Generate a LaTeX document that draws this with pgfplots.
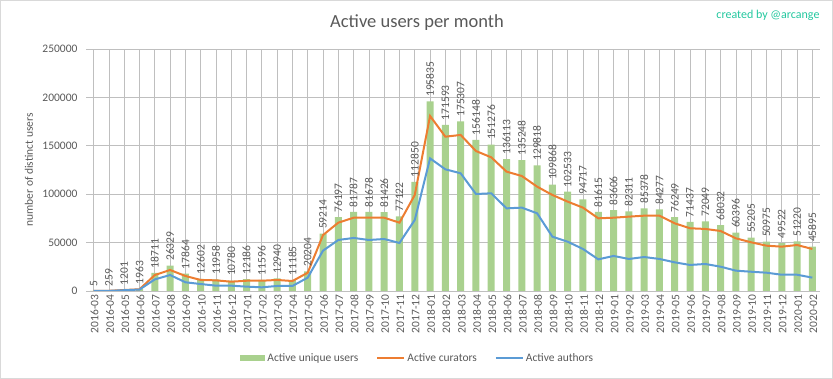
\documentclass[border=0pt]{standalone}
\usepackage{pgfplots}
\usepackage{pgfplotstable}
\pgfplotsset{compat=1.18}
\usepackage{fontspec}
\setmainfont{Carlito}
\definecolor{txt}{HTML}{595959}
\definecolor{grid}{HTML}{D9D9D9}
\definecolor{bar}{HTML}{A9D18E}
\definecolor{cur}{HTML}{ED7D31}
\definecolor{aut}{HTML}{5B9BD5}
\definecolor{teal}{HTML}{22C79E}
\pgfplotstableread{
x m users curators authors
0 2016-03 5 0 0
1 2016-04 259 200 150
2 2016-05 1201 1000 800
3 2016-06 1963 1800 1500
4 2016-07 18711 16500 12000
5 2016-08 26329 21700 16500
6 2016-09 17864 15500 9000
7 2016-10 12602 11400 7200
8 2016-11 11958 11000 5500
9 2016-12 10780 9600 5500
10 2017-01 12186 10600 4500
11 2017-02 11596 10600 3800
12 2017-03 12940 11400 5200
13 2017-04 11185 10300 5200
14 2017-05 20204 18900 13800
15 2017-06 59214 57800 41700
16 2017-07 76197 70600 52700
17 2017-08 81787 75700 54800
18 2017-09 81678 75700 52700
19 2017-10 81426 75700 53700
20 2017-11 77122 70600 49600
21 2017-12 112850 99200 73400
22 2018-01 195835 180800 137000
23 2018-02 171593 159400 125700
24 2018-03 175307 161200 121600
25 2018-04 156148 144600 100200
26 2018-05 151276 138100 100900
27 2018-06 136113 123300 85400
28 2018-07 135248 118800 86100
29 2018-08 129818 107800 80300
30 2018-09 109868 99200 56100
31 2018-10 102533 92300 50900
32 2018-11 94717 86100 43400
33 2018-12 81615 75100 32700
34 2019-01 83606 75700 36200
35 2019-02 82311 76800 33100
36 2019-03 85378 77800 35100
37 2019-04 84277 77800 33100
38 2019-05 76249 69900 29600
39 2019-06 71437 64800 26900
40 2019-07 72049 64100 27900
41 2019-08 68032 62000 25100
42 2019-09 60396 54400 21000
43 2019-10 55205 50300 19900
44 2019-11 50975 46800 18900
45 2019-12 49522 45800 16800
46 2020-01 51220 47500 16800
47 2020-02 45895 43400 13800
}\data
\begin{document}
\begin{tikzpicture}[x=1pt,y=1pt]
\begin{axis}[
  at={(86pt,88pt)}, anchor=south west,
  scale only axis, width=734pt, height=242pt,
  xmin=-0.5, xmax=47.5, ymin=0, ymax=250000,
  axis line style={draw=none},
  major tick length=0pt,
  ytick={0,50000,100000,150000,200000,250000},
  ymajorgrids, grid style={grid, line width=0.75pt},
  scaled y ticks=false,
  /pgf/number format/assume math mode=true,
  yticklabel={\pgfmathprintnumber[fixed,precision=0,1000 sep={}]{\tick}},
  yticklabel style={font=\fontsize{11.5}{13}\selectfont, text=txt, xshift=-5pt},
  xtick={0,...,47},
  xticklabels from table={\data}{m},
  xticklabel style={rotate=90, anchor=east, font=\fontsize{11.5}{13}\selectfont, text=txt, yshift=-1pt},
  legend style={draw=none, fill=none, at={(0.452,-0.277)}, anchor=center,
    font=\fontsize{11.5}{13}\selectfont, text=txt, legend columns=3,
    /tikz/every even column/.append style={column sep=16pt},
    legend cell align=left},
]
\addplot[ybar, bar width=7pt, fill=bar, draw=none,
  nodes near coords, point meta=explicit symbolic,
  nodes near coords align={west},
  nodes near coords style={rotate=90, anchor=west, font=\fontsize{11.5}{13}\selectfont, text=txt, inner xsep=4.5pt, inner ysep=1pt},
  legend image code/.code={\fill[bar] (0pt,-3pt) rectangle (25pt,3pt);}]
  table[x=x, y=users, meta=users] {\data};
\addlegendentry{Active unique users}
\addplot[cur, line width=2pt, mark=none,
  legend image code/.code={\draw[cur, line width=2pt] (0pt,0pt) -- (27pt,0pt);}]
  table[x=x, y=curators] {\data};
\addlegendentry{Active curators}
\addplot[aut, line width=2pt, mark=none,
  legend image code/.code={\draw[aut, line width=2pt] (0pt,0pt) -- (27pt,0pt);}]
  table[x=x, y=authors] {\data};
\addlegendentry{Active authors}
\end{axis}
\node[font=\fontsize{18.5}{20}\selectfont, text=txt] at (417,356) {Active users per month};
\node[font=\fontsize{12}{14}\selectfont, text=teal, anchor=east] at (823,364) {created by @arcange};
\node[font=\fontsize{11.5}{13}\selectfont, text=txt, rotate=90] at (29,209) {number of distinct users};
\pgfresetboundingbox
\draw[grid, line width=0.75pt] (0.5,0.5) rectangle (832.5,378.5);
\path[use as bounding box] (0,0) rectangle (833,379);
\end{tikzpicture}
\end{document}
